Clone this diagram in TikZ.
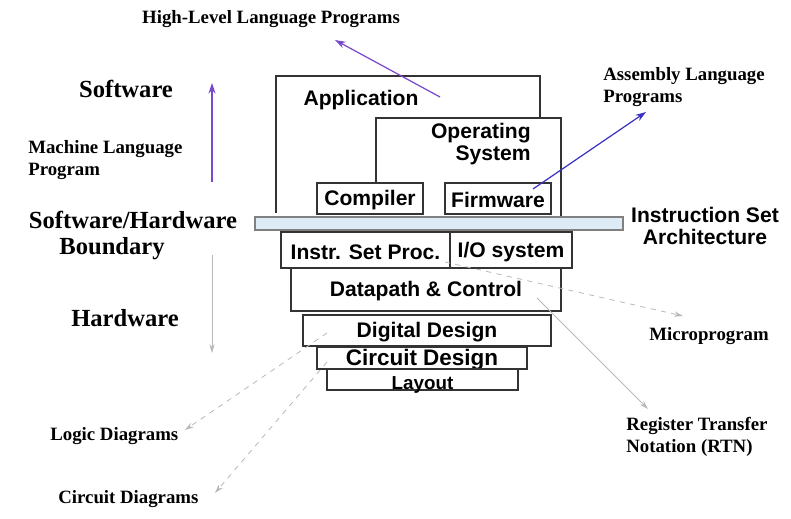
\documentclass[tikz,border=0pt]{standalone}
\usepackage{fontspec}
\setmainfont{Liberation Serif}
\newfontfamily\arialfont{Liberation Sans}
\usetikzlibrary{arrows.meta}
\definecolor{Violet}{HTML}{7A48CC}
\definecolor{Indigo}{HTML}{3A32C4}
\definecolor{Pale}{HTML}{DCEBF6}
\definecolor{Wire}{HTML}{B8B8B8}

\begin{document}
\begin{tikzpicture}[x=0.02cm,y=-0.02cm,
    lbl/.style={font=\bfseries\fontsize{10.7}{12.5}\selectfont,align=left,inner sep=0pt},
    big/.style={font=\bfseries\fontsize{14}{16}\selectfont,inner sep=0pt},
    sf/.style={font=\arialfont\bfseries\fontsize{12}{12.5}\selectfont,inner sep=0pt},
    frame/.style={draw=black!80,line width=.6pt},
    ptr/.style={-{Stealth[length=6pt,width=4pt]},line width=.7pt},
    faint/.style={-{Stealth[length=5pt,width=3pt]},draw=Wire,line width=.45pt}]
  \useasboundingbox (0,0) rectangle (791,519);
  % side labels
  \node[lbl] (hll) at (271,19) {High-Level Language Programs};
  \node[big] (sw) at (126,89) {Software};
  \node[lbl,anchor=west] (mlp) at (28,160) {Machine Language\\Program};
  \node[big] (swhw) at (133,220) {Software/Hardware};
  \node[big] (bnd) at (112,249) {Boundary};
  \node[big] (hw) at (125,318) {Hardware};
  \node[lbl,anchor=west] (logic) at (50,436) {Logic Diagrams};
  \node[lbl,anchor=west] (circ) at (58,499) {Circuit Diagrams};
  \node[lbl,anchor=west] (asm) at (603,87) {Assembly Language\\Programs};
  \node[sf,align=center] (isa) at (705,226) {Instruction Set\\ Architecture};
  \node[lbl] (micro) at (709,336) {Microprogram};
  \node[lbl,anchor=west] (rtn) at (626,437) {Register Transfer\\Notation (RTN)};
  % software layers
  \draw[frame] (276,213)--(276,76)--(540,76)--(540,118);
  \draw[frame] (376,183)--(376,118)--(561,118)--(561,216);
  \node[sf] (app) at (361,100) {Application};
  \node[sf,align=right,anchor=east] (os) at (531,144) {Operating\\System};
  \begin{scope}[every node/.append style={yshift=-1pt}]
  \draw[frame] (317,183) rectangle (423,214) node[midway,sf] (comp) {Compiler};
  \draw[frame] (445,183) rectangle (551,214) node[midway,sf] (fw) {Firmware};
  % ISA bar
  \draw[draw=black!50,fill=Pale,line width=.6pt] (255,217) rectangle (623,230);
  % hardware layers
  \draw[frame] (281,232) rectangle (450,268) node[midway,sf] (isp) {Instr. Set Proc.};
  \draw[frame] (450,232) rectangle (572,268) node[midway,sf] (io) {I/O system};
  \draw[frame] (291,268) rectangle (561,311) node[midway,sf] (dp) {Datapath \& Control};
  \draw[frame] (303,315) rectangle (551,346) node[midway,sf] (dd) {Digital Design};
  \draw[frame] (317,347) rectangle (527,369) node[midway,sf,font=\arialfont\bfseries\fontsize{12.8}{14}\selectfont] (cd) {Circuit Design};
  \draw[frame] (327,369) rectangle (518,390) node[midway,sf,yshift=-2pt,font=\arialfont\bfseries\fontsize{10.7}{12}\selectfont] (lay) {Layout};
  \end{scope}
  % connectors
  \coordinate (appt) at (440,97);   \coordinate (hlltip) at (335,40);
  \coordinate (upa) at (212,182);   \coordinate (upb) at (212,83);
  \coordinate (fwpt) at (533,189);  \coordinate (asmtip) at (646,112);
  \coordinate (dna) at (212,255);   \coordinate (dnb) at (212,353);
  \coordinate (isppt) at (445,262); \coordinate (microtip) at (683,316);
  \coordinate (dppt) at (537,298);  \coordinate (rtntip) at (648,409);
  \coordinate (ddpt) at (327,333);  \coordinate (logictip) at (185,430);
  \coordinate (cdpt) at (327,362);  \coordinate (circtip) at (215,493);
  \draw[ptr,Violet] (appt)--(hlltip);
  \draw[ptr,Violet] (upa)--(upb);
  \draw[ptr,Indigo] (fwpt)--(asmtip);
  \draw[faint] (dna)--(dnb);
  \draw[faint,dashed] (isppt)--(microtip);
  \draw[faint] (dppt)--(rtntip);
  \draw[faint,dashed] (ddpt)--(logictip);
  \draw[faint,dashed] (cdpt)--(circtip);
\end{tikzpicture}
\end{document}
